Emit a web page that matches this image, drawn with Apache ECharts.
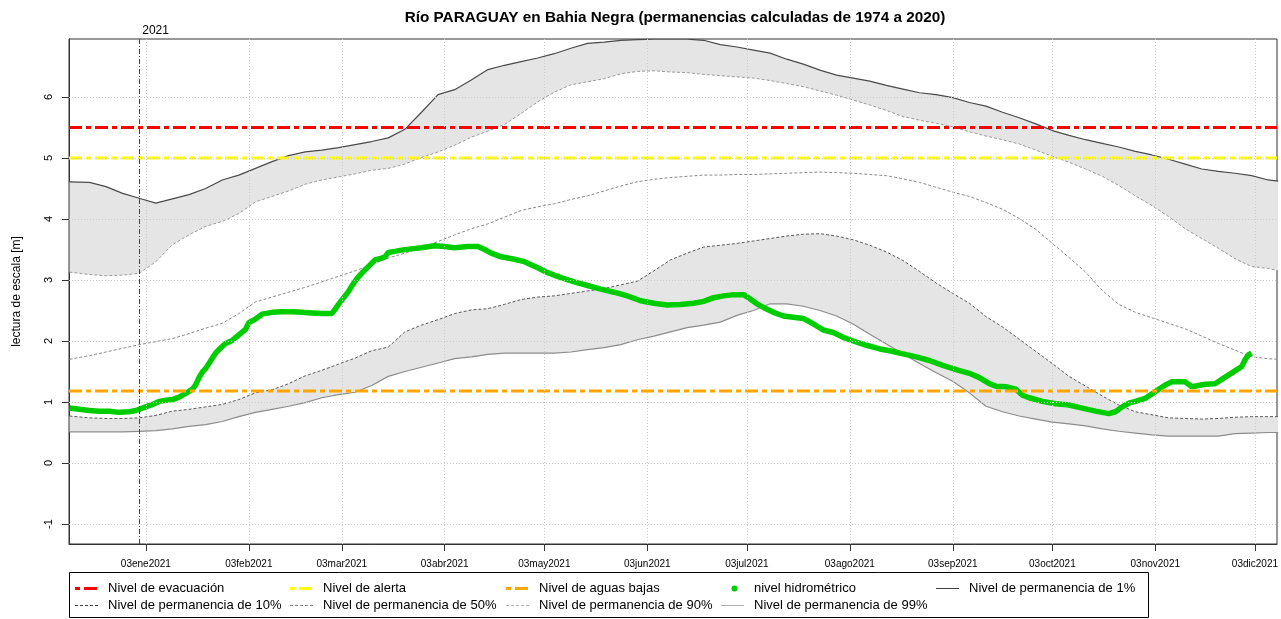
<!DOCTYPE html>
<html><head><meta charset="utf-8">
<script src="https://cdn.jsdelivr.net/npm/echarts@6/dist/echarts.min.js"></script>
<style>html,body{margin:0;padding:0;background:#fff}#c{width:1281px;height:619px}</style>
</head><body><div id="c"></div>
<script>
const chartTitle = 'Río PARAGUAY en Bahia Negra (permanencias calculadas de 1974 a 2020)';
const yAxisTitle = 'lectura de escala [m]';
// x values are days counted from 1 Jan 2021 (= 0)
const tickDays = [2, 33, 61, 92, 122, 153, 183, 214, 245, 275, 306, 336];
const tickLabels = ['03ene2021','03feb2021','03mar2021','03abr2021','03may2021','03jun2021','03jul2021','03ago2021','03sep2021','03oct2021','03nov2021','03dic2021'];
const yTicks = [-1, 0, 1, 2, 3, 4, 5, 6];

const bandDays = [-21,-15,-10,-5,0,5,10,15,20,25,30,35,40,45,50,55,60,65,70,75,80,85,90,95,100,105,110,115,120,125,130,135,140,145,150,155,160,165,170,175,180,185,190,195,200,205,210,215,220,225,230,235,240,245,250,255,260,265,270,275,280,285,290,295,300,305,310,315,320,325,330,335,340,343];
const p1  = [4.61,4.60,4.53,4.42,4.34,4.26,4.33,4.40,4.50,4.64,4.72,4.83,4.94,5.04,5.10,5.13,5.17,5.22,5.27,5.33,5.47,5.75,6.04,6.12,6.28,6.45,6.52,6.58,6.64,6.71,6.80,6.88,6.90,6.93,6.94,6.95,6.95,6.95,6.93,6.86,6.82,6.77,6.72,6.62,6.54,6.44,6.36,6.31,6.26,6.19,6.13,6.07,6.04,5.99,5.91,5.85,5.75,5.66,5.56,5.45,5.37,5.30,5.24,5.18,5.11,5.05,4.98,4.90,4.82,4.78,4.75,4.71,4.64,4.62];
const p10 = [3.13,3.09,3.07,3.08,3.11,3.30,3.58,3.74,3.88,3.96,4.09,4.28,4.37,4.46,4.57,4.64,4.69,4.74,4.80,4.83,4.90,5.01,5.10,5.21,5.34,5.44,5.55,5.73,5.92,6.08,6.20,6.25,6.30,6.38,6.42,6.43,6.41,6.40,6.37,6.35,6.33,6.31,6.27,6.22,6.17,6.10,6.03,5.95,5.87,5.78,5.68,5.62,5.57,5.51,5.43,5.36,5.30,5.23,5.13,5.03,4.93,4.82,4.70,4.55,4.38,4.22,4.04,3.84,3.68,3.52,3.35,3.22,3.19,3.15];
const p50 = [1.70,1.76,1.82,1.88,1.94,1.99,2.04,2.12,2.21,2.29,2.45,2.64,2.72,2.80,2.88,2.97,3.06,3.15,3.25,3.36,3.44,3.53,3.63,3.74,3.84,3.92,4.03,4.14,4.20,4.25,4.32,4.38,4.46,4.54,4.61,4.65,4.68,4.70,4.72,4.72,4.73,4.73,4.74,4.75,4.76,4.77,4.76,4.75,4.73,4.71,4.66,4.60,4.52,4.44,4.37,4.27,4.16,4.01,3.83,3.60,3.37,3.13,2.83,2.60,2.47,2.38,2.29,2.20,2.08,1.96,1.85,1.74,1.71,1.70];
const p90 = [0.77,0.74,0.73,0.73,0.74,0.78,0.85,0.88,0.92,0.96,1.04,1.15,1.20,1.30,1.43,1.52,1.62,1.72,1.84,1.90,2.15,2.26,2.35,2.45,2.51,2.53,2.60,2.68,2.72,2.74,2.78,2.82,2.86,2.92,2.98,3.15,3.33,3.44,3.54,3.57,3.60,3.64,3.68,3.72,3.75,3.76,3.72,3.66,3.57,3.46,3.32,3.14,2.95,2.78,2.62,2.40,2.23,2.03,1.83,1.63,1.42,1.26,1.10,0.95,0.84,0.79,0.74,0.73,0.72,0.73,0.75,0.76,0.76,0.76];
const p99 = [0.51,0.51,0.51,0.51,0.52,0.53,0.56,0.60,0.63,0.68,0.76,0.83,0.88,0.93,0.99,1.07,1.12,1.16,1.27,1.42,1.50,1.57,1.64,1.71,1.74,1.78,1.80,1.80,1.80,1.80,1.82,1.86,1.89,1.94,2.02,2.08,2.15,2.22,2.26,2.31,2.42,2.50,2.61,2.61,2.57,2.50,2.41,2.28,2.11,1.95,1.79,1.63,1.48,1.34,1.15,0.93,0.84,0.77,0.72,0.67,0.64,0.61,0.56,0.52,0.49,0.46,0.44,0.44,0.44,0.44,0.48,0.49,0.50,0.50];

const obsDays = [-21,-18,-15,-12,-9,-6,-3,-1,1,4,6,8,10,12,14,16,17,18,19,20,21,22,23,24,26,28,30,32,33,35,37,40,43,46,49,52,55,58,59,60,61,62,63,64,65,66,67,69,71,73,74,75,77,79,82,85,89,92,95,99,102,104,106,109,113,116,118,120,123,127,131,135,139,143,147,151,155,159,163,167,170,173,176,179,182,184,186,188,191,194,197,200,203,206,209,212,215,219,223,226,230,234,238,242,246,250,253,256,258,261,264,266,268,272,276,280,284,288,292,294,296,298,300,303,306,309,311,313,315,317,319,321,324,326,328,330,332,333,334,335];
const obsVals = [0.90,0.88,0.86,0.85,0.85,0.83,0.84,0.86,0.90,0.96,1.01,1.03,1.04,1.08,1.14,1.21,1.28,1.40,1.49,1.55,1.63,1.72,1.80,1.86,1.96,2.01,2.10,2.19,2.30,2.36,2.44,2.47,2.48,2.48,2.47,2.46,2.45,2.45,2.52,2.60,2.67,2.74,2.81,2.90,2.98,3.05,3.11,3.22,3.33,3.36,3.38,3.45,3.47,3.49,3.51,3.53,3.56,3.55,3.53,3.55,3.55,3.50,3.44,3.38,3.34,3.30,3.25,3.20,3.12,3.04,2.97,2.91,2.85,2.80,2.74,2.66,2.62,2.59,2.60,2.62,2.65,2.71,2.74,2.76,2.76,2.69,2.61,2.55,2.47,2.41,2.39,2.37,2.28,2.18,2.14,2.06,2.00,1.93,1.87,1.84,1.79,1.74,1.68,1.60,1.53,1.47,1.40,1.30,1.26,1.25,1.21,1.11,1.07,1.01,0.97,0.95,0.90,0.85,0.81,0.84,0.92,0.98,1.01,1.06,1.17,1.28,1.33,1.33,1.33,1.25,1.27,1.29,1.30,1.37,1.44,1.51,1.58,1.69,1.77,1.80];

const levelEvacuacion = 5.5;
const levelAlerta = 5.0;
const levelAguasBajas = 1.18;
const yearMarkDay = 0;
const yearMarkLabel = '2021';

const xMin = -21.15, xMax = 342.65, yMin = -1.328, yMax = 6.951;
const FONT = 'Liberation Sans, Arial, Helvetica, sans-serif';

const pairs = (xs, ys) => xs.map((x, i) => [x, ys[i]]);
const hline = v => [[xMin, v], [xMax, v]];

const names = {
  evac: 'Nivel de evacuación', alerta: 'Nivel de alerta', bajas: 'Nivel de aguas bajas',
  obs: 'nivel hidrométrico', q1: 'Nivel de permanencia de 1%', q10: 'Nivel de permanencia de 10%',
  q50: 'Nivel de permanencia de 50%', q90: 'Nivel de permanencia de 90%', q99: 'Nivel de permanencia de 99%'
};

const fillColor = '#e5e5e5';
const noLine = { opacity: 0, width: 0 };
const base = { type: 'line', symbol: 'none', silent: true, animation: false };
const levelDash = [13, 4, 5, 4];

function bandSeries(name, lo, hi) {
  return {
    type: 'custom', name: name, silent: true, animation: false, clip: true,
    data: bandDays.map((d, i) => [d, lo[i], hi[i]]),
    encode: { x: 0, y: [1, 2] },
    renderItem: function (params, api) {
      if (params.dataIndex !== 0) return null;
      const pts = [];
      for (let i = 0; i < bandDays.length; i++) pts.push(api.coord([bandDays[i], hi[i]]));
      for (let i = bandDays.length - 1; i >= 0; i--) pts.push(api.coord([bandDays[i], lo[i]]));
      return { type: 'polygon', shape: { points: pts }, style: { fill: fillColor, stroke: null } };
    }
  };
}

const seriesList = [
  bandSeries('_topBand', p10, p1),
  bandSeries('_botBand', p99, p90),
  Object.assign({}, base, {
    name: '_grid', data: [], lineStyle: noLine,
    markLine: {
      silent: true, symbol: ['none', 'none'], label: { show: false }, animation: false,
      lineStyle: { type: [1, 2], color: '#cccccc', width: 1 },
      data: tickDays.map(d => ({ xAxis: d })).concat(yTicks.map(v => ({ yAxis: v })))
        .concat([{ xAxis: yearMarkDay, lineStyle: { type: [5, 2, 1, 2], color: '#444', width: 1 } }])
    }
  }),
  Object.assign({}, base, { name: names.q10, data: pairs(bandDays, p10), itemStyle: { color: '#9a9a9a' }, lineStyle: { color: '#9a9a9a', width: 1, type: [3, 2] } }),
  Object.assign({}, base, { name: names.q50, data: pairs(bandDays, p50), itemStyle: { color: '#8a8a8a' }, lineStyle: { color: '#8a8a8a', width: 1, type: [3, 2] } }),
  Object.assign({}, base, { name: names.q90, data: pairs(bandDays, p90), itemStyle: { color: '#5a5a5a' }, lineStyle: { color: '#5a5a5a', width: 1, type: [3, 2] } }),
  Object.assign({}, base, { name: names.q99, data: pairs(bandDays, p99), itemStyle: { color: '#8c8c8c' }, lineStyle: { color: '#8c8c8c', width: 1.2 } }),
  Object.assign({}, base, { name: names.q1, data: pairs(bandDays, p1), itemStyle: { color: '#4a4a4a' }, lineStyle: { color: '#4a4a4a', width: 1.2 } }),
  Object.assign({}, base, { name: names.obs, data: pairs(obsDays, obsVals), itemStyle: { color: '#00cd00' }, lineStyle: { color: '#00cd00', width: 5.5 } }),
  Object.assign({}, base, { name: names.evac, data: hline(levelEvacuacion), itemStyle: { color: '#ff0000' }, lineStyle: { color: '#ff0000', width: 3, type: levelDash } }),
  Object.assign({}, base, { name: names.alerta, data: hline(levelAlerta), itemStyle: { color: '#ffff00' }, lineStyle: { color: '#ffff00', width: 3, type: levelDash } }),
  Object.assign({}, base, { name: names.bajas, data: hline(levelAguasBajas), itemStyle: { color: '#ffa500' }, lineStyle: { color: '#ffa500', width: 3, type: levelDash } })
];

// legend layout: text start x per column, row centre y
const colX = [108, 323, 539, 754, 969];
const rowC = [588, 605];
const legendSpec = [
  { name: names.evac,   col: 0, row: 0, icon: { color: '#ff0000', width: 3, dash: levelDash, offset: 17 } },
  { name: names.alerta, col: 1, row: 0, icon: { color: '#ffff00', width: 3, dash: levelDash, offset: 17 } },
  { name: names.bajas,  col: 2, row: 0, icon: { color: '#ffa500', width: 3, dash: levelDash, offset: 17 } },
  { name: names.obs,    col: 3, row: 0, dot: '#00cd00' },
  { name: names.q1,     col: 4, row: 0, icon: { color: '#404040', width: 1 } },
  { name: names.q10,    col: 0, row: 1, icon: { color: '#404040', width: 1, dash: [3, 2] } },
  { name: names.q50,    col: 1, row: 1, icon: { color: '#808080', width: 1, dash: [3, 2] } },
  { name: names.q90,    col: 2, row: 1, icon: { color: '#b0b0b0', width: 1, dash: [3, 2] } },
  { name: names.q99,    col: 3, row: 1, icon: { color: '#b0b0b0', width: 1 } }
];
const legendList = legendSpec.map(s => ({
  show: true, selectedMode: false, orient: 'horizontal', padding: 0, itemGap: 0,
  left: colX[s.col] - 27, top: rowC[s.row] - 7, itemWidth: 22, itemHeight: 14,
  textStyle: { fontSize: 13, color: '#000', fontFamily: FONT },
  data: [{ name: s.name, icon: 'none' }]
}));
const legendIcons = legendSpec.map((s, i) => {
  const y = rowC[s.row] + 0.5;
  if (s.dot) {
    return { id: 'li' + i, type: 'circle', silent: true, shape: { cx: colX[s.col] - 19.5, cy: y, r: 3 }, style: { fill: s.dot } };
  }
  return {
    id: 'li' + i, type: 'line', silent: true,
    shape: { x1: colX[s.col] - 33, y1: y, x2: colX[s.col] - 10, y2: y },
    style: { stroke: s.icon.color, lineWidth: s.icon.width, lineDash: s.icon.dash || null, lineDashOffset: s.icon.offset || 0 }
  };
});

const chart = echarts.init(document.getElementById('c'), null, { renderer: 'canvas' });
chart.setOption({
  animation: false,
  backgroundColor: '#fff',
  title: {
    text: chartTitle, left: 670, top: 5, textAlign: 'center',
    textStyle: { fontSize: 15.3, fontWeight: 'bold', color: '#000', fontFamily: FONT }
  },
  legend: legendList,
  grid: { left: 69, right: 2, top: 39, bottom: 75, show: true, borderColor: '#333', borderWidth: 1, backgroundColor: 'transparent' },
  xAxis: {
    type: 'value', min: xMin, max: xMax,
    axisLine: { show: true, onZero: false, lineStyle: { color: '#333' } },
    axisTick: { show: true, length: 7, customValues: tickDays, lineStyle: { color: '#333' } },
    axisLabel: {
      customValues: tickDays, margin: 15, fontSize: 10, color: '#000', fontFamily: FONT,
      formatter: v => { const i = tickDays.indexOf(v); return i >= 0 ? tickLabels[i] : ''; }
    },
    splitLine: { show: false }
  },
  yAxis: {
    type: 'value', min: yMin, max: yMax,
    name: yAxisTitle, nameLocation: 'middle', nameGap: 46, nameRotate: 90,
    nameTextStyle: { fontSize: 12, color: '#000', fontFamily: FONT },
    axisLine: { show: true, onZero: false, lineStyle: { color: '#333' } },
    axisTick: { show: true, length: 7, customValues: yTicks, lineStyle: { color: '#333' } },
    axisLabel: { customValues: yTicks, rotate: 90, margin: 15, fontSize: 11, color: '#000', fontFamily: FONT },
    splitLine: { show: false }
  },
  graphic: [
    { id: 'legbox', type: 'rect', silent: true, shape: { x: 69.5, y: 572.5, width: 1079, height: 45 },
      style: { fill: 'none', stroke: '#000', lineWidth: 1 } }
  ].concat(legendIcons),
  series: seriesList
});

const markPx = chart.convertToPixel({ xAxisIndex: 0, yAxisIndex: 0 }, [yearMarkDay, yMax]);
chart.setOption({
  graphic: [
    { id: 'year', type: 'text', silent: true, x: markPx[0] + 3, y: markPx[1] - 2,
      style: { text: yearMarkLabel, fill: '#000', font: '12px ' + FONT, textAlign: 'left', textVerticalAlign: 'bottom' } }
  ]
});
</script>
</body></html>
